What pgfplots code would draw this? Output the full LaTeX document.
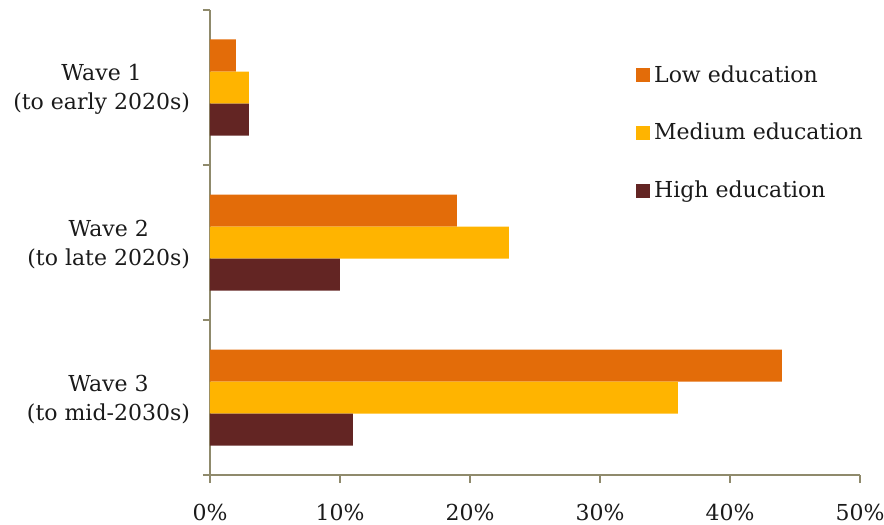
\documentclass[border=0pt]{standalone}
\usepackage{fontspec}
\setmainfont{DejaVu Serif}
\usepackage{pgfplots}
\pgfplotsset{compat=1.18}

\definecolor{lowc}{HTML}{E36C09}
\definecolor{medc}{HTML}{FFB400}
\definecolor{highc}{HTML}{632523}
\definecolor{axc}{HTML}{8F8A6C}
\definecolor{txt}{HTML}{1A1A1A}

\begin{document}
\begin{tikzpicture}
\begin{axis}[
    xbar,
    scale only axis,
    width=325pt,
    height=232.5pt,
    xmin=0, xmax=50,
    ymin=-0.5, ymax=2.5,
    bar width=16pt,
    axis lines*=left,
    axis line style={axc, line width=1pt},
    tick style={axc, line width=1pt},
    tick align=outside,
    major tick length=4pt,
    minor tick length=3.5pt,
    xtick={0,10,20,30,40,50},
    xticklabel={\pgfmathprintnumber{\tick}\%},
    /pgf/number format/assume math mode=true,
    xticklabel style={font=\fontsize{11}{13}\selectfont, text=txt, yshift=-7pt},
    ytick={0,1,2},
    yticklabels={{Wave 3\\(to mid-2030s)}, {Wave 2\\(to late 2020s)}, {Wave 1\\(to early 2020s)}},
    yticklabel style={align=center, font=\fontsize{11}{14.5}\selectfont, text=txt, xshift=-2.5pt, yshift=-1pt},
    major y tick style={draw=none},
    minor ytick={-0.5,0.5,1.5,2.5},
    legend style={draw=none, fill=none, at={(0.655,0.89)}, anchor=north west,
        font=\fontsize{11}{13}\selectfont, text=txt, row sep=15pt, inner sep=0pt},
    legend cell align=left,
    legend image code/.code={\fill[#1] (0pt,-3.5pt) rectangle (7pt,3.5pt);},
]
\addplot[draw=none, fill=lowc, bar shift=16pt] coordinates {(44,0) (19,1) (2,2)};
\addlegendentry{Low education}
\addplot[draw=none, fill=medc, bar shift=0pt] coordinates {(36,0) (23,1) (3,2)};
\addlegendentry{Medium education}
\addplot[draw=none, fill=highc, bar shift=-16pt] coordinates {(11,0) (10,1) (3,2)};
\addlegendentry{High education}
\end{axis}
\pgfresetboundingbox
\path[use as bounding box] (-105pt,-25pt) rectangle (337pt,237.5pt);
\end{tikzpicture}
\end{document}
